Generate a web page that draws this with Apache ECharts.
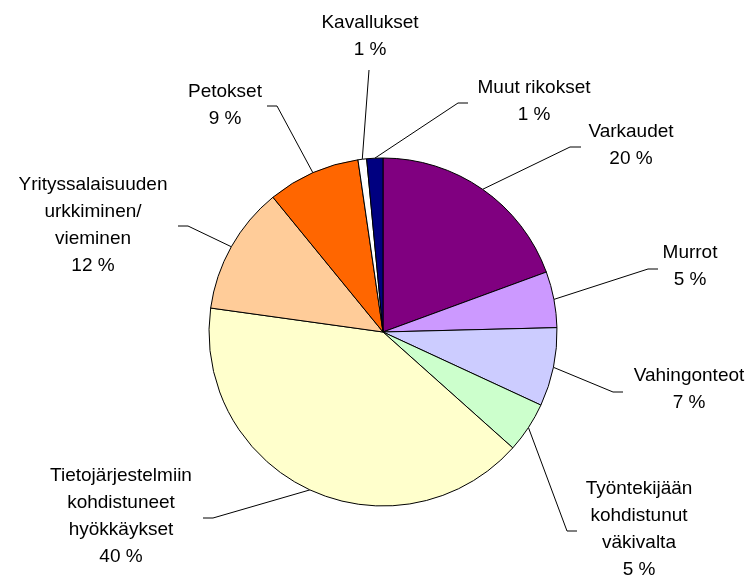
<!DOCTYPE html>
<html>
<head>
<meta charset="utf-8">
<script src="https://cdn.jsdelivr.net/npm/echarts@6/dist/echarts.min.js"></script>
<style>
  html, body { margin: 0; padding: 0; background: #fff; }
  #chart { width: 752px; height: 578px; }
</style>
</head>
<body>
<div id="chart"></div>
<script>
// slices, clockwise from 12 o'clock
const categories = [
  'Varkaudet',
  'Murrot',
  'Vahingonteot',
  'Työntekijään\nkohdistunut\nväkivalta',
  'Tietojärjestelmiin\nkohdistuneet\nhyökkäykset',
  'Yrityssalaisuuden\nurkkiminen/\nvieminen',
  'Petokset',
  'Kavallukset',
  'Muut rikokset'
]
const values = [19.4, 5.2, 7.3, 4.7, 40.6, 11.9, 8.6, 0.8, 1.5]
const pctLabels = [20, 5, 7, 5, 40, 12, 9, 1, 1]
const colors = ['#800080', '#CC99FF', '#CCCCFF', '#CCFFCC', '#FFFFCC', '#FFCC99', '#FF6600', '#FFFFFF', '#000080']

// label placement: [textX, textY, elbowX, elbowY, endX, endY]
const labelPos = [
  [631, 145, 570, 147, 581, 147],
  [690, 266.5, 648, 269, 658, 269],
  [689, 389.5, 613, 392, 623, 392],
  [639, 529.5, 567, 531, 577, 531],
  [121, 516.5, 213, 518, 203, 518],
  [93, 225.5, 188, 226, 178, 226],
  [225, 105, 277, 106, 267, 106],
  [370, 36.5, 369, 70, 369, 70],
  [534, 101, 458, 103, 468, 103]
]

const chart = echarts.init(document.getElementById('chart'))

chart.setOption({
  animation: false,
  series: [
    {
      type: 'pie',
      center: [383, 332],
      radius: 174,
      startAngle: 90,
      clockwise: true,
      avoidLabelOverlap: false,
      emphasis: { disabled: true },
      itemStyle: {
        borderColor: '#000',
        borderWidth: 1
      },
      label: {
        show: true,
        position: 'outside',
        color: '#000',
        fontFamily: '"Liberation Sans", Arial, sans-serif',
        fontSize: 19,
        lineHeight: 27,
        formatter: (p) => p.name + '\n' + pctLabels[p.dataIndex] + ' %'
      },
      labelLine: {
        show: true,
        length: 20,
        length2: 10,
        lineStyle: { color: '#000', width: 1 }
      },
      labelLayout: (params) => {
        const pos = labelPos[params.dataIndex]
        const start = params.labelLinePoints ? params.labelLinePoints[0] : [pos[2], pos[3]]
        return {
          x: pos[0],
          y: pos[1],
          align: 'center',
          verticalAlign: 'middle',
          labelLinePoints: [start, [pos[2], pos[3]], [pos[4], pos[5]]]
        }
      },
      data: categories.map((name, i) => ({
        name,
        value: values[i],
        itemStyle: { color: colors[i] }
      }))
    }
  ]
})
</script>
</body>
</html>
